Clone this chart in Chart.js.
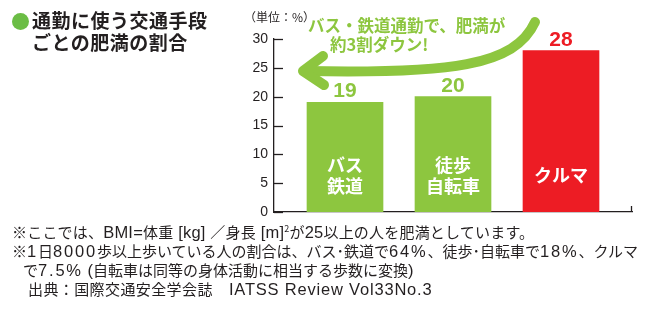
<!DOCTYPE html>
<html>
<head>
<meta charset="utf-8">
<script src="https://cdn.jsdelivr.net/npm/chart.js@4/dist/chart.umd.min.js"></script>
<style>
  body { margin: 0; background: #fff; }
  #wrap { position: relative; width: 647px; height: 310px; overflow: hidden; }
  #chart { position: absolute; left: 0; top: 0; }
  .title {
    position: absolute; left: 12px; top: 9px;
    font: bold 19px "Noto Sans CJK JP", sans-serif; color: #231f20;
    line-height: 22px; letter-spacing: 0.5px;
  }
  .title .dot {
    display: inline-block; width: 17px; height: 17px; border-radius: 50%;
    background: #6bbd45; vertical-align: -2px; margin-right: 3px;
  }
  .title .l2 { padding-left: 20px; }
  .notes {
    position: absolute; left: 12px; top: 219px;
    font: 15px "Noto Sans CJK JP", sans-serif; color: #231f20;
    line-height: 19px; white-space: nowrap;
  }
  .notes .ind { padding-left: 11px; }
  .notes .src { padding-left: 16px; letter-spacing: 0.4px; }
  .notes .first { letter-spacing: 0.2px; }
  .notes .l { font-family: "Liberation Sans", sans-serif; font-size: 16.5px; line-height: 15px; }
  .notes .n { font-family: "Liberation Sans", sans-serif; font-size: 16.5px; line-height: 15px; letter-spacing: 1.8px; }
  .notes .w { font-family: "Liberation Sans", sans-serif; font-size: 16.5px; line-height: 15px; letter-spacing: 0.8px; }
</style>
</head>
<body>
<div id="wrap">
  <canvas id="chart" width="647" height="310"></canvas>
  <div class="title"><span class="dot"></span>通勤に使う交通手段<br><span class="l2">ごとの肥満の割合</span></div>
  <div class="notes">
    <div class="first">※ここでは、<span class="l">BMI=</span>体重<span class="l"> [kg] </span>／身長<span class="l"> [m]</span><sup style="font-size:9px">2</sup>が<span class="l">25</span>以上の人を肥満としています。</div>
    <div>※<span class="n">1</span>日<span class="n">8000</span>歩以上歩いている人の割合は、バス･鉄道で<span class="n">64%</span>、徒歩･自転車で<span class="n">18%</span>、クルマ</div>
    <div class="ind">で<span class="n">7.5%</span><span class="l"> (</span>自転車は同等の身体活動に相当する歩数に変換<span class="l">)</span></div>
    <div class="src">出典：国際交通安全学会誌<span class="w">&nbsp;&nbsp;&nbsp;IATSS Review Vol33No.3</span></div>
  </div>
</div>
<script>
// data
const categories = [['バス', '鉄道'], ['徒歩', '自転車'], ['クルマ']];
const obesityRates = [19, 20, 28];
const barColors = ['#8dc63f', '#8dc63f', '#ed1c24'];
const yTicks = [0, 5, 10, 15, 20, 25, 30];
const unitLabel = '（単位：%）';
const calloutLines = ['バス・鉄道通勤で、肥満が', '約3割ダウン!'];

const JP = '"Noto Sans CJK JP", sans-serif';
const NUM = '"Liberation Sans", Arial, sans-serif';
const INK = '#231f20';

// inward ticks, labels, arrow etc.
const decorations = {
  id: 'decorations',
  afterDatasetsDraw(chart) {
    const ctx = chart.ctx;
    const area = chart.chartArea;
    const y = chart.scales.y;
    const meta = chart.getDatasetMeta(0);

    ctx.save();
    ctx.strokeStyle = INK;
    ctx.lineWidth = 1.3;
    yTicks.forEach(v => {
      const py = Math.round(y.getPixelForValue(v)) + 0.5;
      ctx.beginPath();
      ctx.moveTo(area.left, py);
      ctx.lineTo(area.left + 9, py);
      ctx.stroke();
    });
    // small tick at right end of x axis
    ctx.beginPath();
    ctx.moveTo(area.right - 0.5, area.bottom);
    ctx.lineTo(area.right - 0.5, area.bottom - 6);
    ctx.stroke();

    // unit
    ctx.fillStyle = INK;
    ctx.font = '12px ' + JP;
    ctx.textAlign = 'left';
    ctx.textBaseline = 'middle';
    ctx.fillText(unitLabel, 244, 17);

    // values and names
    meta.data.forEach((bar, i) => {
      ctx.fillStyle = barColors[i];
      ctx.font = 'bold 21px ' + NUM;
      ctx.textAlign = 'center';
      ctx.textBaseline = 'alphabetic';
      ctx.fillText(String(obesityRates[i]), bar.x, bar.y - 5);

      const lines = categories[i];
      ctx.fillStyle = '#fff';
      ctx.font = 'bold 18px ' + JP;
      ctx.textBaseline = 'middle';
      const mid = lines.length === 1 ? 175 : 176;
      lines.forEach((t, k) => {
        ctx.fillText(t, bar.x, mid + (k - (lines.length - 1) / 2) * 21);
      });
    });

    // curved arrow
    ctx.strokeStyle = '#8dc63f';
    ctx.lineWidth = 10;
    ctx.lineCap = 'round';
    ctx.lineJoin = 'round';
    ctx.beginPath();
    ctx.moveTo(535, 22);
    ctx.bezierCurveTo(515, 66, 450, 74, 304, 71);
    ctx.stroke();
    ctx.beginPath();
    ctx.moveTo(323, 56);
    ctx.lineTo(303, 71);
    ctx.lineTo(324, 85);
    ctx.stroke();

    ctx.fillStyle = '#8dc63f';
    ctx.font = 'bold 16.5px ' + JP;
    ctx.textAlign = 'left';
    ctx.textBaseline = 'middle';
    ctx.fillText(calloutLines[0], 308, 26);
    ctx.fillText(calloutLines[1], 330, 45);
    ctx.restore();
  }
};

new Chart(document.getElementById('chart'), {
  type: 'bar',
  data: {
    datasets: [{
      data: obesityRates.map((v, i) => ({ x: i + 1, y: v })),
      backgroundColor: barColors,
      barThickness: 76,
      borderWidth: 0
    }]
  },
  options: {
    responsive: false,
    animation: false,
    events: [],
    layout: { padding: { left: 0, right: 15, top: 39, bottom: 98 } },
    plugins: { legend: { display: false }, tooltip: { enabled: false } },
    scales: {
      x: {
        type: 'linear',
        offset: false,
        min: 1 - 71 / 108,
        max: 1 - 71 / 108 + 358 / 108,
        grid: { display: false },
        ticks: { display: false },
        border: { color: INK, width: 1.3 },
        afterFit(s) { s.height = 0; }
      },
      y: {
        min: 0,
        max: 30,
        grid: { display: false, drawTicks: false },
        border: { color: INK, width: 1.3 },
        ticks: {
          stepSize: 5,
          padding: 6,
          color: INK,
          font: { family: NUM, size: 14 }
        },
        afterFit(s) { s.width = 274; }
      }
    }
  },
  plugins: [decorations]
});
</script>
</body>
</html>
